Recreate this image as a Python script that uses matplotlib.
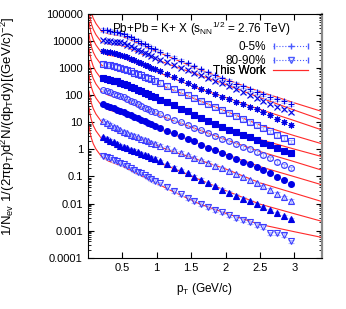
import numpy as np
import matplotlib
matplotlib.use('Agg')
import matplotlib.pyplot as plt
from matplotlib.container import ErrorbarContainer
from matplotlib.legend_handler import HandlerErrorbar
from matplotlib.ticker import FuncFormatter, LogLocator, NullFormatter

plt.rcParams['font.family'] = ['Liberation Sans', 'DejaVu Sans']
plt.rcParams['mathtext.default'] = 'regular'
plt.rcParams['font.size'] = 8

# pT bin centres (GeV/c)
pt = [0.225, 0.275, 0.325, 0.375, 0.425, 0.475, 0.525, 0.575, 0.625, 0.675,
      0.725, 0.775, 0.825, 0.875, 0.925, 0.975,
      1.05, 1.15, 1.25, 1.35, 1.45, 1.55, 1.65, 1.75, 1.85, 1.95,
      2.05, 2.15, 2.25, 2.35, 2.45, 2.55, 2.65, 2.75, 2.85, 2.95]

# spectra, one list per centrality class (scaled)
s1 = [26300, 24500, 23400, 21900, 20900, 19500, 17800, 15500, 13500, 11700,
      10200, 8700, 7600, 6600, 5750, 5000,
      4070, 3160, 2450, 1900, 1480, 1150, 890, 690, 540, 420,
      330, 260, 210, 166, 132, 107, 87, 71, 59, 48]
s2 = [10500, 10000, 9800, 9300, 9100, 8900, 8100, 7100, 6300, 5500,
      4800, 4200, 3600, 3200, 2800, 2450,
      2040, 1660, 1320, 1050, 850, 680, 540, 430, 340, 270,
      214, 166, 132, 102, 79, 63, 49, 38, 30, 23]
s3 = [4270, 4070, 3800, 3550, 3390, 3160, 2880, 2570, 2240, 1950,
      1740, 1510, 1350, 1170, 1020, 910,
      760, 590, 460, 355, 275, 214, 174, 138, 110, 89,
      71, 58, 46, 36, 30, 23, 17.8, 13.5, 10.5, 7.9]
s4 = [1450, 1350, 1260, 1170, 1120, 1050, 950, 850, 760, 680,
      600, 540, 480, 430, 380, 340,
      280, 220, 170, 132, 102, 79, 62, 48, 37, 29,
      22, 17, 13.2, 10.2, 7.9, 6.0, 4.6, 3.5, 2.6, 2.0]
s5 = [440, 410, 370, 340, 320, 290, 260, 230, 200, 178,
      155, 138, 120, 107, 93, 83,
      69, 54, 42, 32, 25, 19, 14.8, 11.5, 8.9, 6.9,
      5.4, 4.4, 3.5, 2.75, 2.24, 1.78, 1.41, 1.12, 0.89, 0.71]
s6 = [151, 138, 126, 112, 102, 93, 83, 72, 63, 55,
      48, 41, 35, 31, 27, 23.4,
      19.5, 15.5, 12.6, 10.0, 7.9, 6.3, 5.0, 4.0, 3.1, 2.45,
      1.95, 1.58, 1.26, 1.0, 0.81, 0.63, 0.47, 0.35, 0.26, 0.2]
s7 = [46, 41, 36, 33, 29.5, 26.3, 23.4, 20.9, 18.2, 15.8,
      14.1, 12.3, 11.0, 9.5, 8.3, 7.4,
      6.2, 4.9, 3.9, 3.1, 2.45, 1.95, 1.51, 1.17, 0.91, 0.71,
      0.56, 0.45, 0.35, 0.28, 0.22, 0.174, 0.129, 0.095, 0.072, 0.054]
s8 = [11.2, 9.5, 8.1, 6.9, 5.9, 5.0, 4.4, 3.9, 3.5, 3.1,
      2.75, 2.5, 2.24, 2.0, 1.78, 1.58,
      1.38, 1.12, 0.91, 0.74, 0.60, 0.49, 0.39, 0.31, 0.25, 0.20,
      0.155, 0.12, 0.093, 0.072, 0.056, 0.043, 0.032, 0.023, 0.017, 0.0126]
s9 = [2.75, 2.4, 2.1, 1.82, 1.58, 1.38, 1.23, 1.1, 0.98, 0.87,
      0.78, 0.69, 0.62, 0.55, 0.49, 0.44,
      0.36, 0.28, 0.21, 0.166, 0.129, 0.098, 0.074, 0.056, 0.043, 0.032,
      0.025, 0.0195, 0.0151, 0.012, 0.0093, 0.0072, 0.0056, 0.0044, 0.0034, 0.0026]
s10 = [0.59, 0.52, 0.47, 0.41, 0.36, 0.32, 0.28, 0.24, 0.2, 0.178,
       0.15, 0.129, 0.11, 0.095, 0.081, 0.069,
       0.055, 0.041, 0.03, 0.022, 0.016, 0.0123, 0.0095, 0.0076, 0.0059, 0.0047,
       0.0037, 0.003, 0.0025, 0.002, 0.0016, 0.0014, 0.0008, 0.0008, 0.0007, 0.0004]
spectra = [s1, s2, s3, s4, s5, s6, s7, s8, s9, s10]
rel_err = 0.15

# model curves ("This Work")
curve_pt = [0.02, 0.03, 0.05, 0.08, 0.12, 0.2, 0.3, 0.5, 0.8, 1.2, 1.6, 2.0, 2.5, 3.0, 3.4]
c1 = [309000, 204000, 117000, 69000, 44000, 22900, 18600, 15100, 6800, 2500, 930, 390, 135, 52, 25]
c2 = [120000, 79000, 46000, 27000, 17000, 8900, 7800, 6900, 3200, 1320, 575, 250, 81, 28, 12.3]
c3 = [50000, 33000, 19000, 11200, 7100, 3700, 3000, 2450, 1200, 457, 182, 83, 30, 11.5, 5.2]
c4 = [17400, 11500, 6600, 3900, 2450, 1290, 1000, 800, 420, 170, 66, 26, 7.9, 3.2, 1.6]
c5 = [5200, 3500, 2000, 1170, 740, 390, 295, 220, 107, 42, 15.8, 6.3, 2.3, 1.02, 0.54]
c6 = [1820, 1200, 690, 410, 257, 135, 100, 71, 32, 12.6, 5.4, 2.3, 0.83, 0.35, 0.17]
c7 = [550, 363, 209, 123, 78, 41, 29, 20, 9.5, 3.9, 1.66, 0.66, 0.23, 0.098, 0.049]
c8 = [141, 93, 54, 32, 20, 10.5, 6.5, 3.6, 2.2, 0.89, 0.42, 0.19, 0.058, 0.024, 0.0118]
c9 = [34, 22.4, 12.9, 7.6, 4.8, 2.5, 1.66, 1.02, 0.54, 0.22, 0.081, 0.030, 0.0095, 0.0042, 0.0022]
c10 = [7.2, 4.8, 2.75, 1.62, 1.02, 0.54, 0.37, 0.24, 0.1, 0.031, 0.0102, 0.0044, 0.0017, 0.00091, 0.00056]
curves = [c1, c2, c3, c4, c5, c6, c7, c8, c9, c10]

markers = ['+', 'x', (8, 2, 0), 's', 's', 'o', 'o', '^', '^', 'v']
filled = [True, True, True, False, True, False, True, False, True, False]

blue = '#0000e6'
open_blue = '#3c3cff'
err_blue = '#b2baff'

fig = plt.figure(figsize=(3.46, 3.09), dpi=100)
ax = fig.add_axes([0.2535, 0.166, 0.677, 0.789])

for c in curves:
    ax.plot(curve_pt, c, color='#ff2a2a', lw=0.8)

for s, m, f in zip(spectra, markers, filled):
    y = np.array(s)
    col = blue if f else open_blue
    ax.errorbar(pt, y, yerr=y * rel_err, marker=m, ls='none', ms=4.2, mew=0.8,
                mfc=col if f else 'none', mec=col,
                ecolor=err_blue, elinewidth=0.9, capsize=2.2, capthick=0.9)

ax.set_yscale('log')
ax.set_xlim(0, 3.4)
ax.set_ylim(1e-4, 1e5)
ax.set_xticks([0.5, 1, 1.5, 2, 2.5, 3])
ax.xaxis.set_major_formatter(FuncFormatter(lambda v, _: '%g' % v))
ax.yaxis.set_major_locator(LogLocator(base=10, numticks=20))
ax.yaxis.set_major_formatter(FuncFormatter(lambda v, _: '%g' % v))
ax.yaxis.set_minor_formatter(NullFormatter())
ax.tick_params(which='both', direction='in', top=True, right=True, labelsize=8)
ax.tick_params(which='major', length=4, width=0.8)
ax.tick_params(which='minor', length=2, width=0.6)
ax.spines['right'].set_color('#8a8a8a')
ax.spines['right'].set_linewidth(1.6)

ax.set_xlabel('p$_T$ (GeV/c)', fontsize=8.5, labelpad=6)
ax.set_ylabel('1/N$_{ev}$ 1/(2πp$_T$)d$^2$N/(dp$_T$dy)[(GeV/c)$^{-2}$]', fontsize=9.5)
ax.yaxis.set_label_coords(-0.3, 0.54)
ax.text(0.485, 0.938, 'Pb+Pb = K+ X (s$_{NN}$$^{1/2}$ = 2.76 TeV)', transform=ax.transAxes,
        ha='center', va='center', fontsize=8.5)

# legend, text right-aligned before the sample as in gnuplot
leg_blue = '#4a5aff'
h_cent = ax.errorbar([np.nan], [np.nan], xerr=[0.1], marker='+', ls=':', lw=0.8, ms=5,
                     color=leg_blue, ecolor=leg_blue, elinewidth=0.8, capsize=2.5)
h_peri = ax.errorbar([np.nan], [np.nan], xerr=[0.1], marker='v', ls=':', lw=0.8, ms=4,
                     mfc='none', color=leg_blue, ecolor=leg_blue, elinewidth=0.8, capsize=2.5)
for h in (h_cent, h_peri):
    h[2][0].set_linewidth(0)
h_model = ax.lines[0]
hmap = {ErrorbarContainer: HandlerErrorbar(xerr_size=1.45)}
for h, lab, yy in [(h_cent, '0-5%', 0.863), (h_peri, '80-90%', 0.808), (h_model, 'This Work', 0.765)]:
    leg = ax.legend([h], [lab], loc='center right', bbox_to_anchor=(0.942, yy),
                    markerfirst=False, frameon=False, handlelength=3.0, handletextpad=0.6,
                    borderpad=0, borderaxespad=0, fontsize=8.5, handler_map=hmap)
    ax.add_artist(leg)

fig.savefig('out.png', dpi=100)
